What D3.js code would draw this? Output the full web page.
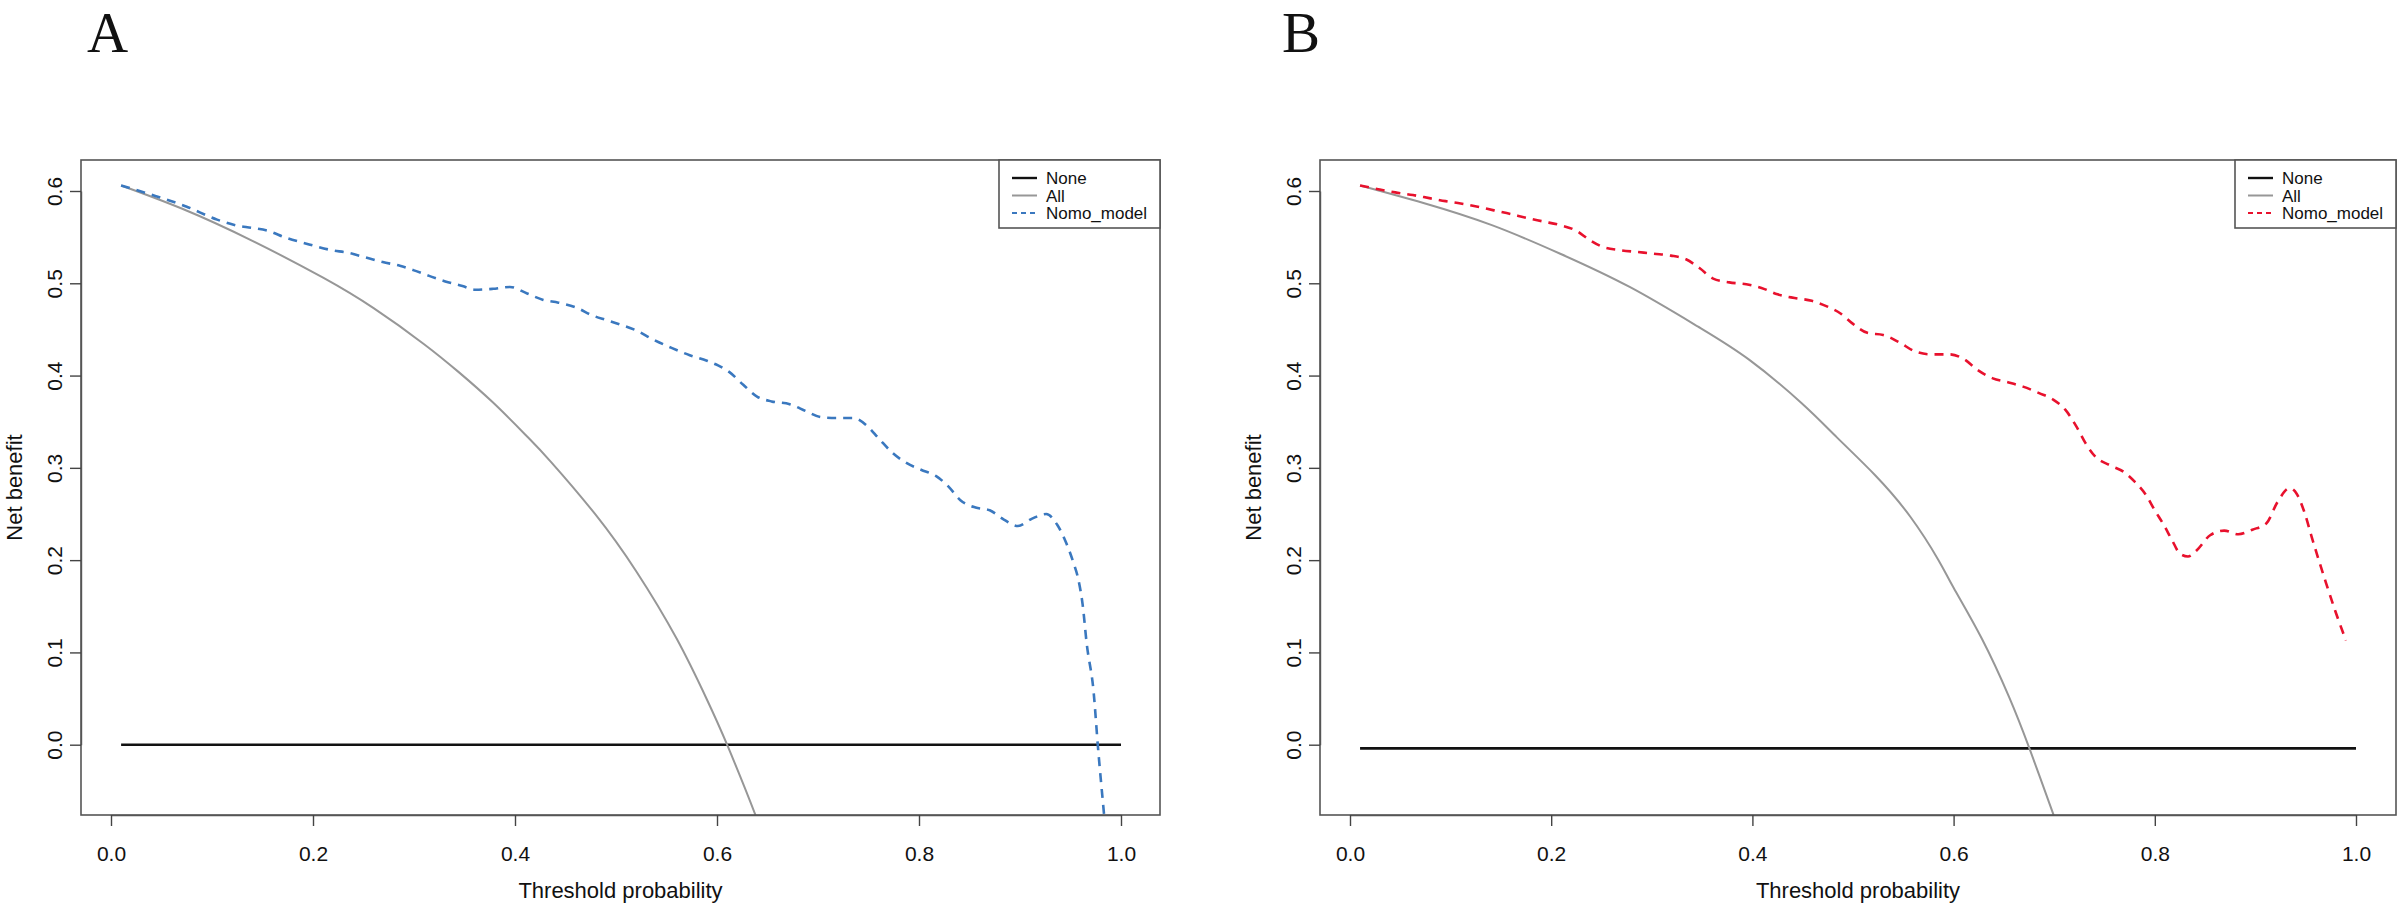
<!DOCTYPE html>
<html>
<head>
<meta charset="utf-8">
<script src="https://cdn.jsdelivr.net/npm/d3@7"></script>
<style>
  body { margin: 0; background: #fff; }
  svg { display: block; font-family: "Liberation Sans", Arial, sans-serif; }
</style>
</head>
<body>
<svg id="chart"></svg>
<script>
// ---- data (threshold, net benefit) ----
const xTicks = [0, 0.2, 0.4, 0.6, 0.8, 1.0];
const yTicks = [0, 0.1, 0.2, 0.3, 0.4, 0.5, 0.6];
const legendLabels = ["None", "All", "Nomo_model"];

const noneA = [[0.01, 0], [1.0, 0]];
const noneB = [[0.01, -0.004], [1.0, -0.004]];

const allA = [
  [0.01, 0.606], [0.07, 0.581], [0.14, 0.546], [0.21, 0.506], [0.26, 0.473],
  [0.31, 0.434], [0.344, 0.404], [0.378, 0.371], [0.412, 0.334], [0.436, 0.306],
  [0.48, 0.249], [0.52, 0.188], [0.56, 0.115], [0.59, 0.049], [0.61, 0.000],
  [0.638, -0.076], [0.65, -0.114]
];

const nomoA = [
  [0.01, 0.606], [0.04, 0.596], [0.075, 0.583], [0.105, 0.569], [0.123, 0.563],
  [0.14, 0.560], [0.155, 0.557], [0.174, 0.549], [0.19, 0.544], [0.218, 0.536],
  [0.235, 0.533], [0.252, 0.528], [0.269, 0.523], [0.286, 0.519], [0.30, 0.514],
  [0.315, 0.508], [0.331, 0.502], [0.348, 0.497], [0.361, 0.493], [0.378, 0.494],
  [0.395, 0.496], [0.412, 0.489], [0.428, 0.482], [0.443, 0.479], [0.46, 0.474],
  [0.477, 0.465], [0.491, 0.460], [0.505, 0.455], [0.52, 0.449], [0.537, 0.439],
  [0.555, 0.430], [0.573, 0.422], [0.59, 0.416], [0.601, 0.411], [0.612, 0.404],
  [0.626, 0.390], [0.64, 0.377], [0.654, 0.372], [0.672, 0.369], [0.689, 0.361],
  [0.703, 0.355], [0.718, 0.354], [0.735, 0.354], [0.749, 0.345], [0.76, 0.332],
  [0.774, 0.316], [0.788, 0.305], [0.802, 0.298], [0.817, 0.291], [0.829, 0.280],
  [0.841, 0.265], [0.856, 0.257], [0.87, 0.254], [0.884, 0.244], [0.898, 0.237],
  [0.912, 0.245], [0.926, 0.250], [0.937, 0.238], [0.946, 0.218], [0.953, 0.197],
  [0.958, 0.178], [0.962, 0.152], [0.966, 0.110], [0.973, 0.056], [0.977, 0.000],
  [0.983, -0.073], [0.987, -0.12]
];

const allB = [
  [0.01, 0.606], [0.073, 0.587], [0.141, 0.563], [0.209, 0.532], [0.278, 0.496],
  [0.346, 0.453], [0.397, 0.417], [0.449, 0.370], [0.484, 0.333], [0.522, 0.292],
  [0.557, 0.247], [0.585, 0.200], [0.60, 0.170], [0.628, 0.115], [0.655, 0.052],
  [0.675, -0.003], [0.699, -0.075], [0.71, -0.11]
];

const nomoB = [
  [0.01, 0.606], [0.028, 0.602], [0.045, 0.5985], [0.0625, 0.5956], [0.08, 0.592],
  [0.095, 0.589], [0.11, 0.5865], [0.127, 0.583], [0.143, 0.579], [0.16, 0.575],
  [0.175, 0.571], [0.192, 0.567], [0.209, 0.563], [0.225, 0.557], [0.238, 0.547],
  [0.25, 0.540], [0.268, 0.536], [0.285, 0.534], [0.302, 0.532], [0.319, 0.530],
  [0.334, 0.526], [0.348, 0.516], [0.361, 0.505], [0.377, 0.501], [0.394, 0.499],
  [0.409, 0.495], [0.425, 0.488], [0.442, 0.484], [0.459, 0.481], [0.474, 0.475],
  [0.488, 0.467], [0.50, 0.456], [0.515, 0.446], [0.53, 0.444], [0.546, 0.436],
  [0.562, 0.426], [0.578, 0.423], [0.596, 0.423], [0.61, 0.418], [0.624, 0.406],
  [0.639, 0.397], [0.653, 0.393], [0.669, 0.388], [0.685, 0.381], [0.699, 0.374],
  [0.711, 0.363], [0.722, 0.345], [0.731, 0.327], [0.741, 0.312], [0.755, 0.303],
  [0.77, 0.295], [0.78, 0.285], [0.791, 0.271], [0.80, 0.254], [0.809, 0.238],
  [0.817, 0.222], [0.825, 0.207], [0.833, 0.204], [0.842, 0.211], [0.855, 0.227],
  [0.869, 0.232], [0.883, 0.228], [0.897, 0.233], [0.911, 0.240], [0.922, 0.263],
  [0.934, 0.278], [0.941, 0.272], [0.949, 0.251], [0.956, 0.225], [0.963, 0.200],
  [0.97, 0.176], [0.98, 0.143], [0.99, 0.113]
];

// ---- layout ----
const width = 2401, height = 910;
const boxTop = 160, boxBottom = 815;

const panels = [
  { id: "A", left: 81,   right: 1160, x0: 111,  x1: 1121, none: noneA, all: allA, nomo: nomoA, color: "#3a78bf", letterX: 87 },
  { id: "B", left: 1320, right: 2396, x0: 1350, x1: 2356, none: noneB, all: allB, nomo: nomoB, color: "#e8112d", letterX: 1282 }
];

const svg = d3.select("#chart")
    .attr("width", width)
    .attr("height", height);

svg.append("rect").attr("width", width).attr("height", height).attr("fill", "#fff");

const y = d3.scaleLinear().domain([0, 0.6]).range([744.7, 191]);
const fmt = d3.format(".1f");

panels.forEach(p => {
  const x = d3.scaleLinear().domain([0, 1]).range([p.x0, p.x1]);
  const g = svg.append("g");

  // clip to the plot box
  g.append("clipPath").attr("id", "clip" + p.id)
    .append("rect")
    .attr("x", p.left).attr("y", boxTop)
    .attr("width", p.right - p.left).attr("height", boxBottom - boxTop);

  const line = d3.line()
      .x(d => x(d[0]))
      .y(d => y(d[1]))
      .curve(d3.curveMonotoneX);

  const smooth = d3.line()
      .x(d => x(d[0]))
      .y(d => y(d[1]))
      .curve(d3.curveNatural);

  const lines = g.append("g").attr("clip-path", `url(#clip${p.id})`);

  lines.append("path")
      .attr("d", d3.line().x(d => x(d[0])).y(d => y(d[1]))(p.none))
      .attr("fill", "none").attr("stroke", "#111").attr("stroke-width", 2.6);

  lines.append("path")
      .attr("d", smooth(p.all))
      .attr("fill", "none").attr("stroke", "#979797").attr("stroke-width", 2);

  lines.append("path")
      .attr("d", line(p.nomo))
      .attr("fill", "none").attr("stroke", p.color).attr("stroke-width", 2.6)
      .attr("stroke-dasharray", "9,7");

  // box
  g.append("rect")
      .attr("x", p.left).attr("y", boxTop)
      .attr("width", p.right - p.left).attr("height", boxBottom - boxTop)
      .attr("fill", "none").attr("stroke", "#555").attr("stroke-width", 1.6);

  // x axis
  const xa = g.append("g")
      .attr("transform", `translate(0,${boxBottom})`)
      .call(d3.axisBottom(x).tickValues(xTicks).tickFormat(fmt).tickSize(11).tickSizeOuter(0).tickPadding(20));
  xa.select(".domain").attr("stroke", "#555").attr("stroke-width", 1.4);
  xa.selectAll(".tick line").attr("stroke", "#444").attr("stroke-width", 1.4);
  xa.selectAll(".tick text")
      .attr("font-size", 21).attr("fill", "#111")
      .attr("font-family", "Liberation Sans, Arial, sans-serif");

  // y axis
  const ya = g.append("g")
      .attr("transform", `translate(${p.left},0)`)
      .call(d3.axisLeft(y).tickValues(yTicks).tickFormat(fmt).tickSize(11).tickSizeOuter(0));
  ya.select(".domain").attr("stroke", "#555").attr("stroke-width", 1.4);
  ya.selectAll(".tick line").attr("stroke", "#444").attr("stroke-width", 1.4);
  ya.selectAll(".tick text")
      .attr("transform", "rotate(-90)")
      .attr("x", 0).attr("y", -19).attr("dy", 0)
      .attr("text-anchor", "middle")
      .attr("font-size", 21).attr("fill", "#111")
      .attr("font-family", "Liberation Sans, Arial, sans-serif");

  // axis titles
  g.append("text")
      .attr("x", (p.left + p.right) / 2).attr("y", 898)
      .attr("text-anchor", "middle")
      .attr("font-size", 22).attr("fill", "#111")
      .text("Threshold probability");

  g.append("text")
      .attr("transform", `translate(${p.left - 59},${(boxTop + boxBottom) / 2}) rotate(-90)`)
      .attr("text-anchor", "middle")
      .attr("font-size", 22).attr("fill", "#111")
      .text("Net benefit");

  // panel letter
  g.append("text")
      .attr("x", p.letterX).attr("y", 52)
      .attr("font-family", "Liberation Serif, Times New Roman, serif")
      .attr("font-size", 57).attr("fill", "#111")
      .text(p.id);

  // legend (top right, inside the box)
  const legW = 161, legH = 68;
  const lg = g.append("g").attr("transform", `translate(${p.right - legW},${boxTop})`);
  lg.append("rect")
      .attr("width", legW).attr("height", legH)
      .attr("fill", "#fff").attr("stroke", "#555").attr("stroke-width", 1.6);

  const legStyles = [
    { stroke: "#111", dash: null, w: 2.4 },
    { stroke: "#979797", dash: null, w: 2 },
    { stroke: p.color, dash: "5,4", w: 2.2 }
  ];
  legendLabels.forEach((label, i) => {
    const ry = 18 + i * 17.5;
    lg.append("line")
        .attr("x1", 13).attr("x2", 38).attr("y1", ry).attr("y2", ry)
        .attr("stroke", legStyles[i].stroke)
        .attr("stroke-width", legStyles[i].w)
        .attr("stroke-dasharray", legStyles[i].dash);
    lg.append("text")
        .attr("x", 47).attr("y", ry + 6)
        .attr("font-size", 17).attr("fill", "#111")
        .text(label);
  });
});
</script>
</body>
</html>
